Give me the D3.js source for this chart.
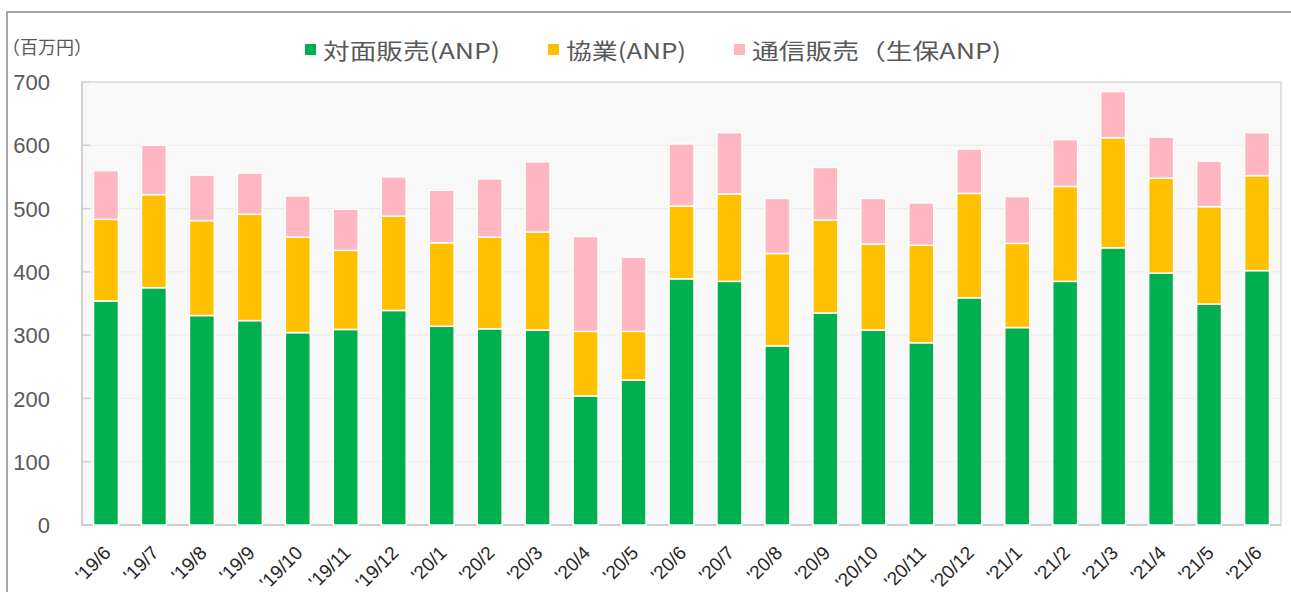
<!DOCTYPE html>
<html>
<head>
<meta charset="utf-8">
<script src="https://cdn.jsdelivr.net/npm/d3@7"></script>
<style>
  html, body { margin: 0; padding: 0; background: #fff; }
  svg { display: block; }
</style>
</head>
<body>
<svg id="chart" width="1291" height="592"></svg>
<script>
// ---- data ----
const categories = ["'19/6","'19/7","'19/8","'19/9","'19/10","'19/11","'19/12",
  "'20/1","'20/2","'20/3","'20/4","'20/5","'20/6","'20/7","'20/8","'20/9","'20/10","'20/11","'20/12",
  "'21/1","'21/2","'21/3","'21/4","'21/5","'21/6"];
const faceToFace = [354,375,331,323,304,309,339,314,310,308,204,229,389,385,283,335,308,288,359,312,385,438,398,349,402];
const kyogyo     = [129,147,150,168,151,125,149,132,145,155,102, 77,115,138,146,147,136,154,165,133,150,174,150,154,150];
const mailOrder  = [ 77, 78, 72, 65, 65, 65, 62, 83, 92,111,150,117, 98, 97, 87, 83, 72, 67, 70, 74, 74, 73, 65, 72, 68];
const seriesNames = ["対面販売(ANP)", "協業(ANP)", "通信販売（生保ANP)"];
const yTicks = [0,100,200,300,400,500,600,700];
const unitLabel = "（百万円）";

// ---- layout ----
const colors = ["#00b050", "#ffc000", "#ffb6c1"];
const plot = {left: 82, right: 1281, top: 82, bottom: 525};
const svg = d3.select("#chart");

// outer frame
svg.append("path")
  .attr("d", `M7,592 L7,12 L1291,12`)
  .attr("fill", "none").attr("stroke", "#a6a6a6").attr("stroke-width", 2);

const x = d3.scaleBand().domain(categories)
  .range([plot.left, plot.right]).paddingInner(0.48).paddingOuter(0.24);
const y = d3.scaleLinear().domain([0, 700]).range([plot.bottom, plot.top]);

// plot background
svg.append("rect")
  .attr("x", plot.left).attr("y", plot.top)
  .attr("width", plot.right - plot.left).attr("height", plot.bottom - plot.top)
  .attr("fill", "#f8f8f8").attr("stroke", "#d9d9d9").attr("stroke-width", 1.5);
// left & bottom shading
svg.append("path")
  .attr("d", `M${plot.left},${plot.top} L${plot.left},${plot.bottom} L${plot.right},${plot.bottom}`)
  .attr("fill", "none").attr("stroke", "#cfcfcf").attr("stroke-width", 2);

// gridlines
svg.append("g").selectAll("line").data(yTicks.filter(d => d > 0 && d < 700)).join("line")
  .attr("x1", plot.left).attr("x2", plot.right)
  .attr("y1", d => y(d)).attr("y2", d => y(d))
  .attr("stroke", "#ebebeb").attr("stroke-width", 1);

// y axis
const yAxis = d3.axisLeft(y).tickValues(yTicks).tickSize(0).tickPadding(32);
const gy = svg.append("g").attr("transform", `translate(${plot.left},0)`).call(yAxis);
gy.select(".domain").remove();
gy.selectAll("text").attr("font-family", "'Liberation Sans', Arial, sans-serif")
  .attr("font-size", 22).attr("fill", "#595959").attr("dy", "0.35em");
// small inner ticks
svg.append("g").selectAll("line").data(yTicks.slice(1)).join("line")
  .attr("x1", plot.left).attr("x2", plot.left + 8)
  .attr("y1", d => y(d)).attr("y2", d => y(d))
  .attr("stroke", "#d0d0d0").attr("stroke-width", 1.5);

// stacked bars
const rows = categories.map((c, i) => ({cat: c, s0: faceToFace[i], s1: kyogyo[i], s2: mailOrder[i]}));
const stack = d3.stack().keys(["s0", "s1", "s2"])(rows);
svg.append("g").selectAll("g").data(stack).join("g")
  .attr("fill", (d, i) => colors[i])
  .selectAll("rect").data(d => d).join("rect")
  .attr("x", d => x(d.data.cat))
  .attr("width", x.bandwidth())
  .attr("y", d => y(d[1]))
  .attr("height", d => y(d[0]) - y(d[1]))
  .attr("stroke", "#ffffff").attr("stroke-width", 1.5);

// x axis labels
const xAxis = d3.axisBottom(x).tickSize(0);
const gx = svg.append("g").attr("transform", `translate(0,${plot.bottom})`).call(xAxis);
gx.select(".domain").remove();
gx.selectAll("text")
  .attr("font-family", "'Liberation Sans', Arial, sans-serif")
  .attr("font-size", 19).attr("fill", "#262626")
  .attr("text-anchor", "end")
  .attr("y", 0).attr("dy", 0)
  .attr("transform", "translate(6,29) rotate(-45)");

// unit label
svg.append("text").attr("x", 2).attr("y", 54)
  .attr("font-family", "'Noto Sans CJK JP', sans-serif").attr("font-size", 18)
  .attr("fill", "#595959")
  .text(unitLabel);

// legend
const legendX = [305, 548, 734];
const legendW = [177, 120, 249];
const lg = svg.append("g");
seriesNames.forEach((name, i) => {
  lg.append("rect").attr("x", legendX[i]).attr("y", 44).attr("width", 11).attr("height", 11)
    .attr("fill", colors[i]);
  lg.append("text").attr("x", legendX[i] + 18).attr("y", 59)
    .attr("font-family", "'Noto Sans CJK JP', sans-serif").attr("font-size", 22)
    .attr("fill", "#595959")
    .attr("textLength", legendW[i]).attr("lengthAdjust", "spacingAndGlyphs")
    .text(name);
});
</script>
</body>
</html>
